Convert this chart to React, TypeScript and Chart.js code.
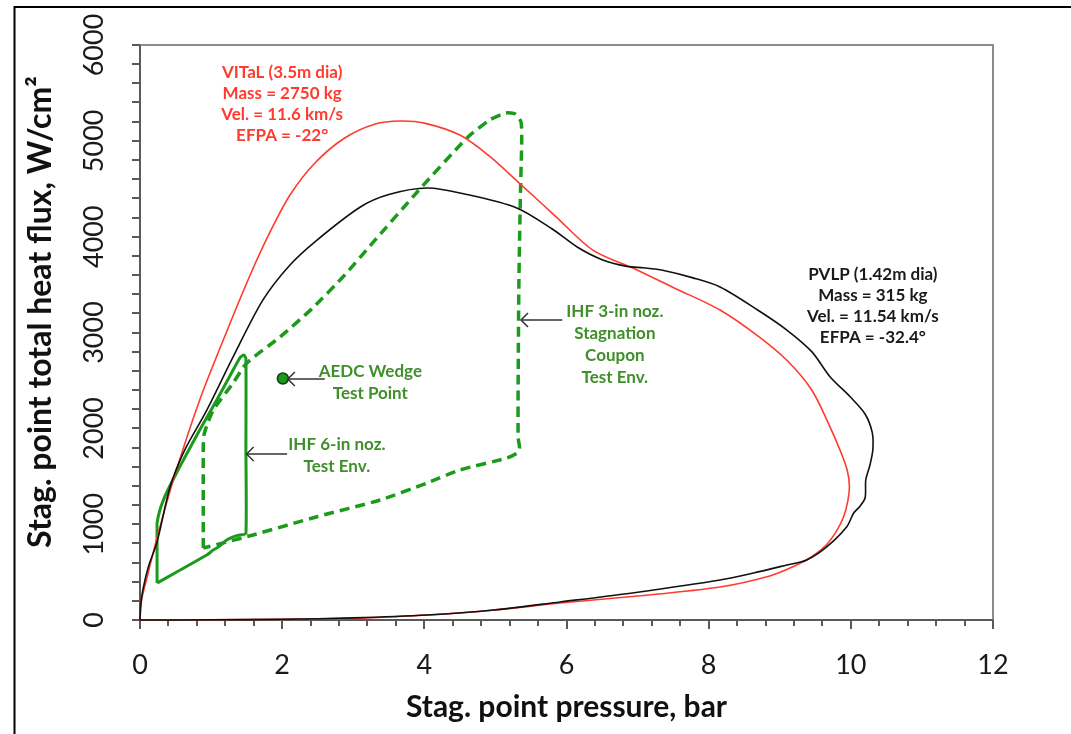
import React, { useEffect, useRef } from "react";
import { Chart, registerables } from "chart.js";

Chart.register(...registerables);

// ---- Data ----
// VITaL (3.5m dia) trajectory: stagnation pressure (bar) vs total heat flux (W/cm2)
const vitalX = [0, 0.02, 0.09, 0.25, 0.49, 0.84, 1.2, 1.55, 1.83, 2.11, 2.46, 2.88, 3.31, 3.66, 4.0, 4.5, 4.9, 5.32, 5.85, 6.37, 6.94, 7.5, 8.16, 8.7, 9.1, 9.45, 9.71, 9.86, 9.95, 9.98, 9.96, 9.9, 9.8, 9.65, 9.45, 9.2, 8.86, 8.16, 7.0, 5.91, 5.0, 4.04, 3.1, 2.0, 1.0, 0.3, 0];
const vitalY = [0, 200, 418, 887, 1513, 2296, 2974, 3600, 4049, 4435, 4769, 5030, 5176, 5207, 5185, 5060, 4850, 4570, 4210, 3860, 3670, 3470, 3235, 2960, 2710, 2400, 2010, 1750, 1560, 1400, 1250, 1080, 930, 780, 660, 560, 460, 345, 250, 177, 105, 52, 20, 8, 3, 1, 0];

// PVLP (1.42m dia) trajectory
const pvlpX = [0, 0.01, 0.04, 0.12, 0.24, 0.42, 0.62, 0.94, 1.31, 1.73, 2.11, 2.49, 3.1, 3.5, 4.04, 4.6, 5.3, 5.8, 6.15, 6.5, 6.85, 7.08, 7.32, 7.78, 8.16, 8.7, 9.1, 9.45, 9.71, 9.99, 10.2, 10.3, 10.31, 10.27, 10.21, 10.2, 10.12, 10.04, 9.94, 9.66, 9.38, 9.1, 8.63, 8.16, 7.0, 5.91, 4.97, 4.04, 3.0, 2.0, 1.0, 0];
const pvlpY = [0, 150, 313, 560, 814, 1380, 1760, 2190, 2745, 3340, 3705, 3965, 4310, 4440, 4508, 4440, 4300, 4080, 3892, 3760, 3690, 3675, 3655, 3570, 3475, 3230, 3026, 2800, 2536, 2330, 2150, 1960, 1780, 1620, 1461, 1273, 1180, 1116, 970, 762, 626, 574, 490, 417, 290, 188, 104, 52, 22, 8, 2, 0];

// IHF 3-in nozzle stagnation coupon test envelope (dashed)
const ihf3X = [0.89, 0.89, 0.89, 0.9, 0.95, 1.03, 1.31, 1.5, 1.97, 2.43, 2.88, 3.26, 3.9, 4.6, 4.92, 5.14, 5.28, 5.36, 5.37, 5.35, 5.33, 5.32, 5.32, 5.34, 5.3, 5.16, 4.5, 4.04, 3.38, 2.5, 1.59, 1.2, 0.89];
const ihf3Y = [751, 1300, 1800, 1930, 2050, 2190, 2473, 2680, 2953, 3256, 3600, 3924, 4466, 5030, 5218, 5290, 5280, 5197, 5009, 4383, 3500, 2500, 1900, 1790, 1740, 1690, 1565, 1430, 1252, 1080, 887, 810, 751];

// IHF 6-in nozzle test envelope (solid)
const ihf6X = [0.24, 0.24, 0.24, 0.28, 0.35, 0.42, 0.56, 0.84, 1.08, 1.31, 1.41, 1.46, 1.49, 1.49, 1.49, 1.41, 1.32, 1.22, 1.1, 1.03, 0.94, 0.24];
const ihf6Y = [386, 960, 1012, 1148, 1290, 1400, 1600, 1983, 2296, 2609, 2740, 2765, 2730, 1800, 900, 887, 870, 835, 760, 730, 678, 386];

// AEDC wedge test point
const aedcX = [2.01];
const aedcY = [2520];

// Axis ticks
const xTickLabels = [0, 2, 4, 6, 8, 10, 12];
const yTickLabels = [0, 1000, 2000, 3000, 4000, 5000, 6000];
const xMinorStep = 0.4;
const yMinorStep = 200;

const FONT = 'Lato, "Open Sans", "DejaVu Sans", sans-serif';
const GREEN_LINE = "#1c9a1c";
const GREEN_TEXT = "#3f8f2b";
const RED = "#ff3b2f";

const pts = (xs: number[], ys: number[]) => xs.map((x, i) => ({ x, y: ys[i] }));

type Note = { x: number; y: number; lines: string[]; color: string; gap: number };
const notes: Note[] = [
  { x: 2.0, y: 5708, lines: ["VITaL (3.5m dia)", "Mass = 2750 kg", "Vel. = 11.6 km/s", "EFPA = -22°"], color: RED, gap: 21 },
  { x: 10.31, y: 3600, lines: ["PVLP (1.42m dia)", "Mass = 315 kg", "Vel. = 11.54 km/s", "EFPA = -32.4°"], color: "#1a1a1a", gap: 21 },
  { x: 3.24, y: 2598, lines: ["AEDC Wedge", "Test Point"], color: GREEN_TEXT, gap: 22 },
  { x: 2.77, y: 1826, lines: ["IHF 6-in noz.", "Test Env."], color: GREEN_TEXT, gap: 22 },
  { x: 6.68, y: 3214, lines: ["IHF 3-in noz.", "Stagnation", "Coupon", "Test Env."], color: GREEN_TEXT, gap: 22 },
];

type Arrow = { tipX: number; tailX: number; y: number };
const arrows: Arrow[] = [
  { tipX: 2.08, tailX: 2.6, y: 2515 },
  { tipX: 1.5, tailX: 2.07, y: 1732 },
  { tipX: 5.36, tailX: 5.94, y: 3130 },
];

export default function App() {
  const ref = useRef<HTMLCanvasElement>(null);

  useEffect(() => {
    document.body.style.margin = "0";
    const canvas = ref.current!;

    const deco = {
      id: "deco",
      beforeDatasetsDraw(chart: any) {
        const { ctx, chartArea: a, scales } = chart;
        const x = scales.x;
        const y = scales.y;
        ctx.save();
        // outer frame (top & left)
        ctx.strokeStyle = "#000";
        ctx.lineWidth = 2;
        ctx.beginPath();
        ctx.moveTo(14.5, 734);
        ctx.lineTo(14.5, 7);
        ctx.lineTo(1071, 7);
        ctx.stroke();

        // plot box top/right
        ctx.strokeStyle = "#8c8c8c";
        ctx.lineWidth = 2;
        ctx.beginPath();
        ctx.moveTo(a.left, a.top);
        ctx.lineTo(a.right, a.top);
        ctx.lineTo(a.right, a.bottom);
        ctx.stroke();

        // axes
        ctx.strokeStyle = "#595959";
        ctx.beginPath();
        ctx.moveTo(a.left, a.top);
        ctx.lineTo(a.left, a.bottom);
        ctx.lineTo(a.right, a.bottom);
        ctx.stroke();

        // y ticks
        ctx.lineWidth = 2;
        for (let v = 0; v <= 6000 + 1e-6; v += yMinorStep) {
          const p = Math.round(y.getPixelForValue(v));
          ctx.beginPath();
          ctx.moveTo(a.left - 8, p);
          ctx.lineTo(a.left, p);
          ctx.stroke();
        }
        // x ticks
        const n = Math.round(12 / xMinorStep);
        for (let i = 0; i <= n; i++) {
          const v = i * xMinorStep;
          const p = Math.round(x.getPixelForValue(v));
          const major = i % 5 === 0;
          ctx.beginPath();
          ctx.moveTo(p, a.bottom);
          ctx.lineTo(p, a.bottom + (major ? 9 : 6));
          ctx.stroke();
        }

        // tick labels
        ctx.fillStyle = "#1a1a1a";
        ctx.font = `27px ${FONT}`;
        ctx.textAlign = "center";
        ctx.textBaseline = "middle";
        xTickLabels.forEach((v) => {
          ctx.fillText(String(v), x.getPixelForValue(v), 665);
        });
        yTickLabels.forEach((v) => {
          ctx.save();
          ctx.translate(94, y.getPixelForValue(v));
          ctx.rotate(-Math.PI / 2);
          ctx.fillText(String(v), 0, 0);
          ctx.restore();
        });

        // axis titles
        ctx.fillStyle = "#111";
        ctx.font = `bold 30px ${FONT}`;
        ctx.fillText("Stag. point pressure, bar", (a.left + a.right) / 2, 707);
        ctx.save();
        ctx.font = `bold 32px ${FONT}`;
        ctx.translate(41, 312);
        ctx.rotate(-Math.PI / 2);
        ctx.fillText("Stag. point total heat flux, W/cm²", 0, 0);
        ctx.restore();
        ctx.restore();
      },
      afterDatasetsDraw(chart: any) {
        const { ctx, scales } = chart;
        const x = scales.x;
        const y = scales.y;
        ctx.save();
        ctx.font = `bold 17px ${FONT}`;
        ctx.textAlign = "center";
        ctx.textBaseline = "middle";
        notes.forEach((nt) => {
          ctx.fillStyle = nt.color;
          const cx = x.getPixelForValue(nt.x);
          const cy = y.getPixelForValue(nt.y);
          nt.lines.forEach((l, i) => ctx.fillText(l, cx, cy + i * nt.gap));
        });
        ctx.strokeStyle = "#333";
        ctx.lineWidth = 1.5;
        arrows.forEach((ar) => {
          const tx = x.getPixelForValue(ar.tipX);
          const sx = x.getPixelForValue(ar.tailX);
          const py = y.getPixelForValue(ar.y);
          ctx.beginPath();
          ctx.moveTo(sx, py);
          ctx.lineTo(tx, py);
          ctx.stroke();
          ctx.beginPath();
          ctx.moveTo(tx + 7, py - 7);
          ctx.lineTo(tx, py);
          ctx.lineTo(tx + 7, py + 7);
          ctx.stroke();
        });
        ctx.restore();
      },
    };

    const chart = new Chart(canvas, {
      type: "scatter",
      data: {
        datasets: [
          {
            label: "PVLP",
            data: pts(pvlpX, pvlpY),
            showLine: true,
            borderColor: "#111",
            borderWidth: 1.6,
            pointRadius: 0,
            tension: 0.3,
          },
          {
            label: "VITaL",
            data: pts(vitalX, vitalY),
            showLine: true,
            borderColor: RED,
            borderWidth: 1.6,
            pointRadius: 0,
            tension: 0.3,
          },
          {
            label: "IHF 3-in",
            data: pts(ihf3X, ihf3Y),
            showLine: true,
            borderColor: GREEN_LINE,
            borderWidth: 3.5,
            borderDash: [10, 6],
            pointRadius: 0,
            tension: 0.2,
          },
          {
            label: "IHF 6-in",
            data: pts(ihf6X, ihf6Y),
            showLine: true,
            borderColor: GREEN_LINE,
            borderWidth: 3,
            pointRadius: 0,
            tension: 0.15,
          },
          {
            label: "AEDC",
            data: pts(aedcX, aedcY),
            showLine: false,
            backgroundColor: GREEN_LINE,
            borderColor: "#163d16",
            borderWidth: 1.5,
            pointRadius: 5.5,
          },
        ] as any,
      },
      options: {
        responsive: false,
        animation: false,
        devicePixelRatio: 1,
        layout: { padding: { left: 140, top: 45, right: 78, bottom: 114 } },
        plugins: { legend: { display: false }, tooltip: { enabled: false } },
        scales: {
          x: { type: "linear", min: 0, max: 12, display: false },
          y: { type: "linear", min: 0, max: 6000, display: false },
        },
        datasets: { scatter: { clip: false } as any },
      } as any,
      plugins: [deco],
    });
    return () => chart.destroy();
  }, []);

  return (
    <div style={{ position: "fixed", left: 0, top: 0, width: 1071, height: 734, background: "#fff" }}>
      <canvas ref={ref} width={1071} height={734} style={{ display: "block" }} />
    </div>
  );
}
